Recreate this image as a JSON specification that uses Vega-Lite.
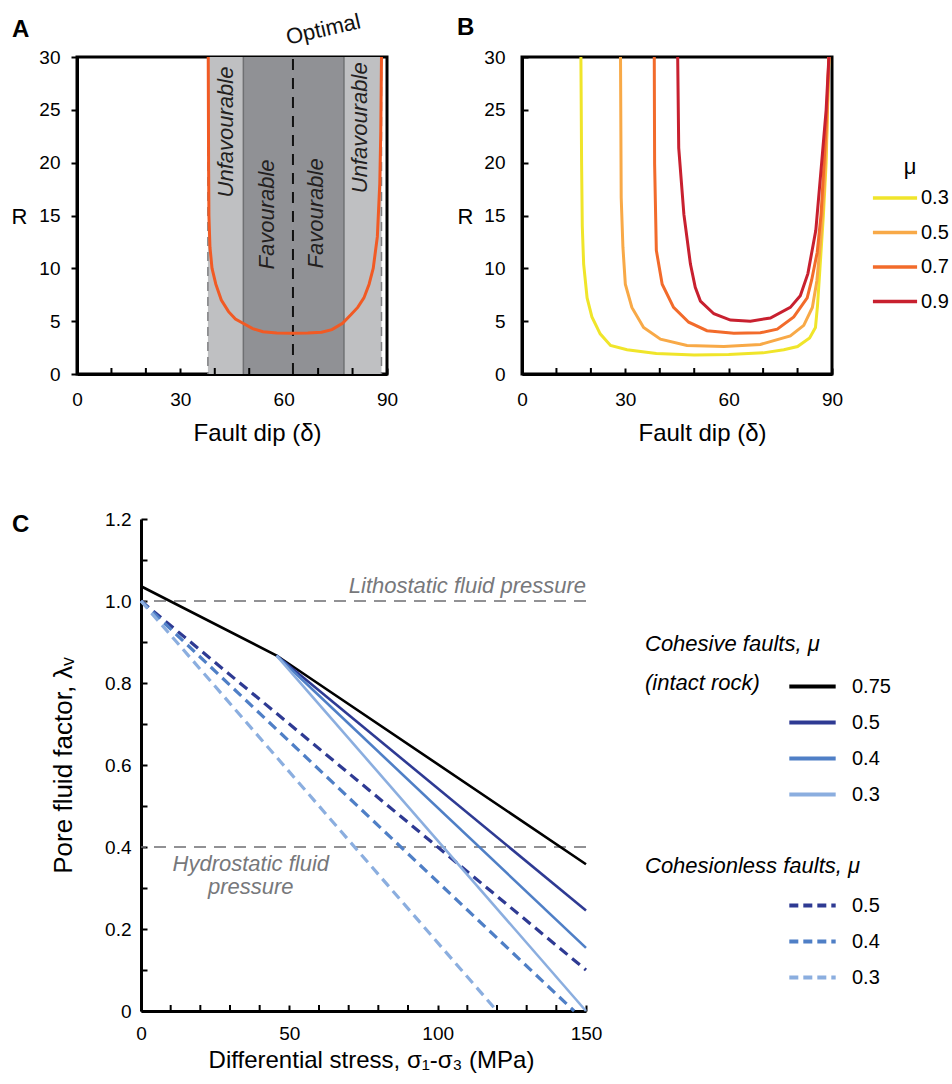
{
  "$schema": "https://vega.github.io/schema/vega-lite/v6.json",
  "padding": {"left": 9, "top": 8, "right": 2, "bottom": 2},
  "bounds": "flush",
  "spacing": 462,
  "resolve": {"scale": {"color": "independent"}},
  "datasets": {
    "A_zones": [
      {"zone": "Unfavourable", "shade": "light", "from": 38, "to": 48.3},
      {"zone": "Favourable", "shade": "dark", "from": 48.3, "to": 62.7},
      {"zone": "Favourable", "shade": "dark", "from": 62.7, "to": 77.5},
      {"zone": "Unfavourable", "shade": "light", "from": 77.5, "to": 88.4}
    ],
    "A_lines": [
      {"dip": 38, "kind": "limit"},
      {"dip": 48.3, "kind": "zone"},
      {"dip": 62.7, "kind": "optimal"},
      {"dip": 77.5, "kind": "zone"},
      {"dip": 88.4, "kind": "limit"}
    ],
    "A_labels": [
      {"label": "Unfavourable", "dip": 43.2, "R": 22.9},
      {"label": "Favourable", "dip": 55.3, "R": 15.1},
      {"label": "Favourable", "dip": 69.5, "R": 15.2},
      {"label": "Unfavourable", "dip": 82.3, "R": 23.3}
    ],
    "dip_minor": [
      {"dip": 10}, {"dip": 20}, {"dip": 40}, {"dip": 50}, {"dip": 70}, {"dip": 80}
    ],
    "stress_minor": [
      {"stress": 10}, {"stress": 20}, {"stress": 30}, {"stress": 40}, {"stress": 60}, {"stress": 70},
      {"stress": 80}, {"stress": 90}, {"stress": 110}, {"stress": 120}, {"stress": 130}, {"stress": 140}
    ],
    "A_curve": [
      {"dip": 38.1, "R": 30}, {"dip": 38.2, "R": 20}, {"dip": 38.3, "R": 15}, {"dip": 38.6, "R": 12},
      {"dip": 39.2, "R": 10}, {"dip": 40.3, "R": 8.5}, {"dip": 41.9, "R": 7.0}, {"dip": 44, "R": 5.9},
      {"dip": 46, "R": 5.2}, {"dip": 48.2, "R": 4.8}, {"dip": 51, "R": 4.3}, {"dip": 54, "R": 4.0},
      {"dip": 58, "R": 3.87}, {"dip": 62.5, "R": 3.85}, {"dip": 67, "R": 3.87}, {"dip": 71, "R": 3.95},
      {"dip": 74, "R": 4.2}, {"dip": 77.1, "R": 4.8}, {"dip": 79.5, "R": 5.6}, {"dip": 81.5, "R": 6.3},
      {"dip": 83.3, "R": 7.2}, {"dip": 84.8, "R": 8.5}, {"dip": 86, "R": 10}, {"dip": 87.2, "R": 13},
      {"dip": 87.9, "R": 18}, {"dip": 88.2, "R": 23}, {"dip": 88.4, "R": 30}
    ],
    "B_curves": [
      {"mu": "0.3", "dip": 17.1, "R": 30}, {"mu": "0.3", "dip": 17.3, "R": 20}, {"mu": "0.3", "dip": 17.5, "R": 14},
      {"mu": "0.3", "dip": 17.9, "R": 10.4}, {"mu": "0.3", "dip": 18.9, "R": 7.2}, {"mu": "0.3", "dip": 20.3, "R": 5.4},
      {"mu": "0.3", "dip": 22.7, "R": 3.8}, {"mu": "0.3", "dip": 25.7, "R": 2.7}, {"mu": "0.3", "dip": 30.5, "R": 2.3},
      {"mu": "0.3", "dip": 39, "R": 1.95}, {"mu": "0.3", "dip": 50, "R": 1.8}, {"mu": "0.3", "dip": 60, "R": 1.85},
      {"mu": "0.3", "dip": 70, "R": 2.0}, {"mu": "0.3", "dip": 76, "R": 2.3}, {"mu": "0.3", "dip": 80, "R": 2.6},
      {"mu": "0.3", "dip": 83.5, "R": 3.4}, {"mu": "0.3", "dip": 85.2, "R": 4.4}, {"mu": "0.3", "dip": 85.8, "R": 6.5},
      {"mu": "0.3", "dip": 86.5, "R": 10}, {"mu": "0.3", "dip": 87.5, "R": 15}, {"mu": "0.3", "dip": 88.3, "R": 20},
      {"mu": "0.3", "dip": 89.1, "R": 30},
      {"mu": "0.5", "dip": 28.6, "R": 30}, {"mu": "0.5", "dip": 28.8, "R": 16.7}, {"mu": "0.5", "dip": 29.3, "R": 12},
      {"mu": "0.5", "dip": 30.0, "R": 8.5}, {"mu": "0.5", "dip": 31.9, "R": 6.3}, {"mu": "0.5", "dip": 35.3, "R": 4.4},
      {"mu": "0.5", "dip": 40.2, "R": 3.3}, {"mu": "0.5", "dip": 47.9, "R": 2.7}, {"mu": "0.5", "dip": 58.6, "R": 2.6},
      {"mu": "0.5", "dip": 69.2, "R": 2.8}, {"mu": "0.5", "dip": 77.9, "R": 3.6}, {"mu": "0.5", "dip": 81.8, "R": 4.6},
      {"mu": "0.5", "dip": 84.3, "R": 6.3}, {"mu": "0.5", "dip": 85.6, "R": 8.8}, {"mu": "0.5", "dip": 86.8, "R": 13},
      {"mu": "0.5", "dip": 87.8, "R": 18}, {"mu": "0.5", "dip": 88.4, "R": 22}, {"mu": "0.5", "dip": 89.1, "R": 30},
      {"mu": "0.7", "dip": 38.4, "R": 30}, {"mu": "0.7", "dip": 38.5, "R": 19.9}, {"mu": "0.7", "dip": 39.0, "R": 11.7},
      {"mu": "0.7", "dip": 40.7, "R": 8.5}, {"mu": "0.7", "dip": 44.0, "R": 6.3}, {"mu": "0.7", "dip": 48.4, "R": 4.9},
      {"mu": "0.7", "dip": 53.7, "R": 4.1}, {"mu": "0.7", "dip": 61.5, "R": 3.85}, {"mu": "0.7", "dip": 69.2, "R": 3.9},
      {"mu": "0.7", "dip": 74.1, "R": 4.25}, {"mu": "0.7", "dip": 78.9, "R": 5.4}, {"mu": "0.7", "dip": 82.8, "R": 7.2},
      {"mu": "0.7", "dip": 84.1, "R": 8.9}, {"mu": "0.7", "dip": 85.7, "R": 11.5}, {"mu": "0.7", "dip": 86.8, "R": 15},
      {"mu": "0.7", "dip": 87.7, "R": 20}, {"mu": "0.7", "dip": 88.4, "R": 24}, {"mu": "0.7", "dip": 89.1, "R": 30},
      {"mu": "0.9", "dip": 45.2, "R": 30}, {"mu": "0.9", "dip": 45.5, "R": 21.4}, {"mu": "0.9", "dip": 47.0, "R": 15.1},
      {"mu": "0.9", "dip": 48.9, "R": 10.4}, {"mu": "0.9", "dip": 50.3, "R": 8.2}, {"mu": "0.9", "dip": 51.8, "R": 6.9},
      {"mu": "0.9", "dip": 55.7, "R": 5.7}, {"mu": "0.9", "dip": 60.5, "R": 5.1}, {"mu": "0.9", "dip": 66.3, "R": 5.0},
      {"mu": "0.9", "dip": 72.1, "R": 5.3}, {"mu": "0.9", "dip": 77.9, "R": 6.3}, {"mu": "0.9", "dip": 80.8, "R": 7.4},
      {"mu": "0.9", "dip": 83.0, "R": 9.5}, {"mu": "0.9", "dip": 85.3, "R": 13.6}, {"mu": "0.9", "dip": 87.0, "R": 20},
      {"mu": "0.9", "dip": 88.3, "R": 25}, {"mu": "0.9", "dip": 89.1, "R": 30}
    ],
    "C_ref": [
      {"level": 1.0, "name": "Lithostatic fluid pressure"},
      {"level": 0.4, "name": "Hydrostatic fluid pressure"}
    ],
    "C_lines": [
      {"type": "cohesive", "mu": "0.75", "stress": 0, "lambda": 1.036},
      {"type": "cohesive", "mu": "0.75", "stress": 45.7, "lambda": 0.867},
      {"type": "cohesive", "mu": "0.75", "stress": 150, "lambda": 0.358},
      {"type": "cohesive", "mu": "0.5", "stress": 45.7, "lambda": 0.867},
      {"type": "cohesive", "mu": "0.5", "stress": 150, "lambda": 0.245},
      {"type": "cohesive", "mu": "0.4", "stress": 45.7, "lambda": 0.867},
      {"type": "cohesive", "mu": "0.4", "stress": 150, "lambda": 0.154},
      {"type": "cohesive", "mu": "0.3", "stress": 45.7, "lambda": 0.867},
      {"type": "cohesive", "mu": "0.3", "stress": 150, "lambda": 0.0},
      {"type": "cohesionless", "mu": "0.5", "stress": 0, "lambda": 1.0},
      {"type": "cohesionless", "mu": "0.5", "stress": 150, "lambda": 0.10},
      {"type": "cohesionless", "mu": "0.4", "stress": 0, "lambda": 1.0},
      {"type": "cohesionless", "mu": "0.4", "stress": 146, "lambda": 0.0},
      {"type": "cohesionless", "mu": "0.3", "stress": 0, "lambda": 1.0},
      {"type": "cohesionless", "mu": "0.3", "stress": 120, "lambda": 0.0}
    ]
  },
  "vconcat": [
    {
      "bounds": "flush",
      "spacing": 135,
      "resolve": {"scale": {"color": "independent"}},
      "hconcat": [
        {
          "width": 310,
          "height": 317,
          "view": {"stroke": "black", "strokeWidth": 3},
          "layer": [
            {
              "data": {"name": "A_zones"},
              "mark": {"type": "rect"},
              "encoding": {
                "x": {"field": "from", "type": "quantitative"},
                "x2": {"field": "to"},
                "y": {"datum": 0, "type": "quantitative"},
                "y2": {"datum": 30},
                "color": {"field": "shade", "type": "nominal", "scale": {"domain": ["light", "dark"], "range": ["#BFC0C2", "#909195"]}, "legend": null}
              }
            },
            {
              "data": {"name": "A_lines"},
              "transform": [{"filter": "datum.kind === 'limit'"}],
              "mark": {"type": "rule", "color": "#7d7e80", "strokeWidth": 1.5, "strokeDash": [9, 6]},
              "encoding": {"x": {"field": "dip", "type": "quantitative"}}
            },
            {
              "data": {"name": "A_lines"},
              "transform": [{"filter": "datum.kind === 'zone'"}],
              "mark": {"type": "rule", "color": "#6f7073", "strokeWidth": 1.5},
              "encoding": {"x": {"field": "dip", "type": "quantitative"}}
            },
            {
              "data": {"name": "A_lines"},
              "transform": [{"filter": "datum.kind === 'optimal'"}],
              "mark": {"type": "rule", "color": "#111111", "strokeWidth": 2, "strokeDash": [11, 8]},
              "encoding": {
                "x": {"field": "dip", "type": "quantitative"},
                "y": {"datum": 0, "type": "quantitative"},
                "y2": {"datum": 30.5}
              }
            },
            {
              "data": {"name": "dip_minor"},
              "mark": {"type": "rule", "color": "black", "strokeWidth": 2},
              "encoding": {
                "x": {"field": "dip", "type": "quantitative"},
                "y": {"datum": 0, "type": "quantitative"},
                "y2": {"datum": 0.57}
              }
            },
            {
              "data": {"name": "A_labels"},
              "mark": {"type": "text", "angle": 270, "fontSize": 22, "fontStyle": "italic", "color": "#231f20", "align": "center", "baseline": "middle"},
              "encoding": {
                "x": {"field": "dip", "type": "quantitative"},
                "y": {"field": "R", "type": "quantitative"},
                "text": {"field": "label"}
              }
            },
            {
              "data": {"name": "A_curve"},
              "mark": {"type": "line", "color": "#F15A24", "strokeWidth": 3},
              "encoding": {
                "x": {
                  "field": "dip", "type": "quantitative",
                  "scale": {"domain": [0, 90], "nice": false, "zero": false},
                  "axis": {"values": [0, 30, 60, 90], "labelOverlap": false, "labelFlush": false, "tickSize": -6, "labelPadding": 22, "title": "Fault dip (δ)", "titleX": 180, "titleY": 59, "titleBaseline": "middle", "titleAlign": "center"}
                },
                "y": {
                  "field": "R", "type": "quantitative",
                  "scale": {"domain": [0, 30], "nice": false},
                  "axis": {"values": [0, 5, 10, 15, 20, 25, 30], "labelOverlap": false, "tickSize": 6, "labelPadding": 11, "title": "R", "titleFontSize": 22, "titleAngle": 0, "titleX": -58, "titleY": 159, "titleAlign": "center", "titleBaseline": "middle"}
                }
              }
            },
            {
              "data": {"values": [{}]},
              "mark": {"type": "text", "text": "Optimal", "angle": 347, "fontSize": 22, "align": "center", "baseline": "middle", "color": "#111111"},
              "encoding": {
                "x": {"datum": 71.5, "type": "quantitative"},
                "y": {"datum": 32.6, "type": "quantitative"}
              }
            },
            {
              "data": {"values": [{}]},
              "mark": {"type": "text", "text": "A", "fontSize": 24, "fontWeight": "bold", "align": "left", "baseline": "alphabetic", "color": "black"},
              "encoding": {
                "x": {"datum": -18.9, "type": "quantitative"},
                "y": {"datum": 31.9, "type": "quantitative"}
              }
            }
          ]
        },
        {
          "width": 310,
          "height": 317,
          "view": {"stroke": "black", "strokeWidth": 3},
          "layer": [
            {
              "data": {"name": "dip_minor"},
              "mark": {"type": "rule", "color": "black", "strokeWidth": 2},
              "encoding": {
                "x": {"field": "dip", "type": "quantitative"},
                "y": {"datum": 0, "type": "quantitative"},
                "y2": {"datum": 0.57}
              }
            },
            {
              "data": {"name": "B_curves"},
              "mark": {"type": "line", "strokeWidth": 3},
              "encoding": {
                "x": {
                  "field": "dip", "type": "quantitative",
                  "scale": {"domain": [0, 90], "nice": false, "zero": false},
                  "axis": {"values": [0, 30, 60, 90], "labelOverlap": false, "labelFlush": false, "tickSize": -6, "labelPadding": 22, "title": "Fault dip (δ)", "titleX": 180, "titleY": 59, "titleBaseline": "middle", "titleAlign": "center"}
                },
                "y": {
                  "field": "R", "type": "quantitative",
                  "scale": {"domain": [0, 30], "nice": false},
                  "axis": {"values": [0, 5, 10, 15, 20, 25, 30], "labelOverlap": false, "tickSize": -6, "labelPadding": 23, "title": "R", "titleFontSize": 22, "titleAngle": 0, "titleX": -57, "titleY": 159, "titleAlign": "center", "titleBaseline": "middle"}
                },
                "color": {
                  "field": "mu", "type": "nominal",
                  "scale": {"domain": ["0.3", "0.5", "0.7", "0.9"], "range": ["#F0E52A", "#F8A947", "#F26B2B", "#C8202F"]},
                  "legend": {"orient": "none", "legendX": 349, "legendY": 100, "title": "μ", "titleFontSize": 22, "titleAnchor": "middle", "titlePadding": -5, "labelFontSize": 20, "labelOffset": 2, "symbolType": "stroke", "symbolSize": 1950, "symbolStrokeWidth": 3.5, "rowPadding": 0.5, "padding": 0}
                }
              }
            },
            {
              "data": {"values": [{}]},
              "mark": {"type": "text", "text": "B", "fontSize": 24, "fontWeight": "bold", "align": "left", "baseline": "alphabetic", "color": "black"},
              "encoding": {
                "x": {"datum": -18.9, "type": "quantitative"},
                "y": {"datum": 32.1, "type": "quantitative"}
              }
            }
          ]
        }
      ]
    },
    {
      "bounds": "flush",
      "spacing": 63,
      "hconcat": [
        {
          "width": 1,
          "height": 1,
          "data": {"values": []},
          "mark": "point"
        },
        {
          "width": 445,
          "height": 492,
          "resolve": {"scale": {"color": "independent"}},
          "layer": [
            {
              "data": {"name": "C_ref"},
              "mark": {"type": "rule", "color": "#6d6e71", "strokeWidth": 1.5, "strokeDash": [12, 8]},
              "encoding": {"y": {"field": "level", "type": "quantitative"}}
            },
            {
              "data": {"name": "stress_minor"},
              "mark": {"type": "rule", "color": "black", "strokeWidth": 2},
              "encoding": {
                "x": {"field": "stress", "type": "quantitative"},
                "y": {"datum": 0, "type": "quantitative"},
                "y2": {"datum": 0.0146}
              }
            },
            {
              "data": {"values": [{}]},
              "mark": {"type": "text", "text": "Lithostatic fluid pressure", "fontSize": 22, "fontStyle": "italic", "color": "#77787b", "align": "right", "baseline": "middle"},
              "encoding": {
                "x": {"datum": 150, "type": "quantitative"},
                "y": {"datum": 1.037, "type": "quantitative"}
              }
            },
            {
              "data": {"values": [{}]},
              "mark": {"type": "text", "text": "Hydrostatic fluid\npressure", "lineBreak": "\n", "lineHeight": 23, "fontSize": 22, "fontStyle": "italic", "color": "#77787b", "align": "center", "baseline": "middle"},
              "encoding": {
                "x": {"datum": 37, "type": "quantitative"},
                "y": {"datum": 0.3585, "type": "quantitative"}
              }
            },
            {
              "data": {"values": [{}]},
              "mark": {"type": "text", "text": "C", "fontSize": 24, "fontWeight": "bold", "align": "left", "baseline": "alphabetic", "color": "black"},
              "encoding": {
                "x": {"datum": -43.5, "type": "quantitative"},
                "y": {"datum": 1.168, "type": "quantitative"}
              }
            },
            {
              "data": {"name": "C_lines"},
              "transform": [{"filter": "datum.type === 'cohesionless'"}],
              "mark": {"type": "line", "strokeWidth": 3.2, "strokeDash": [10, 6]},
              "encoding": {
                "x": {"field": "stress", "type": "quantitative"},
                "y": {"field": "lambda", "type": "quantitative"},
                "color": {
                  "field": "mu", "type": "nominal",
                  "scale": {"domain": ["0.5", "0.4", "0.3"], "range": ["#2E3A93", "#4F7FC6", "#8BAEDF"]},
                  "legend": {"orient": "none", "legendX": 504, "legendY": 337, "title": "Cohesionless faults, μ", "titleLimit": 500, "titleFontSize": 22, "titleFontStyle": "italic", "titlePadding": 2, "labelFontSize": 20, "labelOffset": 14, "symbolType": "stroke", "symbolSize": 2150, "symbolStrokeWidth": 4, "symbolDash": [9, 5], "symbolOffset": 142, "rowPadding": -7.5, "padding": 0}
                }
              }
            },
            {
              "data": {"name": "C_lines"},
              "transform": [{"filter": "datum.type === 'cohesive'"}],
              "mark": {"type": "line", "strokeWidth": 2.6},
              "encoding": {
                "x": {
                  "field": "stress", "type": "quantitative",
                  "scale": {"domain": [0, 150], "nice": false},
                  "axis": {"values": [0, 50, 100, 150], "labelOverlap": false, "labelFlush": false, "tickSize": -6, "labelPadding": 19, "title": "Differential stress, σ₁-σ₃ (MPa)", "titleX": 230, "titleY": 49, "titleBaseline": "middle", "titleAlign": "center"}
                },
                "y": {
                  "field": "lambda", "type": "quantitative",
                  "scale": {"domain": [0, 1.2], "nice": false},
                  "axis": {"values": [0, 0.05, 0.1, 0.15, 0.2, 0.25, 0.3, 0.35, 0.4, 0.45, 0.5, 0.55, 0.6, 0.65, 0.7, 0.75, 0.8, 0.85, 0.9, 0.95, 1.0, 1.05, 1.1, 1.15, 1.2], "labelExpr": "round(datum.value * 100) % 20 === 0 ? (datum.value === 0 ? '0' : format(datum.value, '.1f')) : ''", "labelOverlap": false, "tickSize": -6, "labelPadding": 16, "title": "Pore fluid factor, λᵥ", "titleFontSize": 26, "titleAngle": -90, "titleX": -78, "titleY": 246, "titleBaseline": "middle", "titleAlign": "center"}
                },
                "color": {
                  "field": "mu", "type": "nominal",
                  "scale": {"domain": ["0.75", "0.5", "0.4", "0.3"], "range": ["#000000", "#2E3A93", "#4F7FC6", "#8BAEDF"]},
                  "legend": {"orient": "none", "legendX": 504, "legendY": 115, "title": ["Cohesive faults, μ", "(intact rock)"], "titleLimit": 500, "titleFontSize": 22, "titleFontStyle": "italic", "titleLineHeight": 39, "titlePadding": -34, "labelFontSize": 20, "labelOffset": 14, "symbolType": "stroke", "symbolSize": 2150, "symbolStrokeWidth": 4, "symbolOffset": 142, "rowPadding": -4, "padding": 0}
                }
              }
            }
          ]
        }
      ]
    }
  ],
  "config": {
    "font": "Liberation Sans",
    "view": {"stroke": null},
    "axis": {"grid": false, "labelOverlap": false, "domainColor": "black", "domainWidth": 3, "tickColor": "black", "tickWidth": 2, "labelColor": "black", "labelFontSize": 19, "titleColor": "black", "titleFontSize": 24, "titleFontWeight": "normal", "labelFont": "Liberation Sans", "titleFont": "Liberation Sans"},
    "legend": {"titleFontWeight": "normal", "titleColor": "black", "labelColor": "black", "titleFont": "Liberation Sans", "labelFont": "Liberation Sans"},
    "text": {"font": "Liberation Sans"}
  }
}
